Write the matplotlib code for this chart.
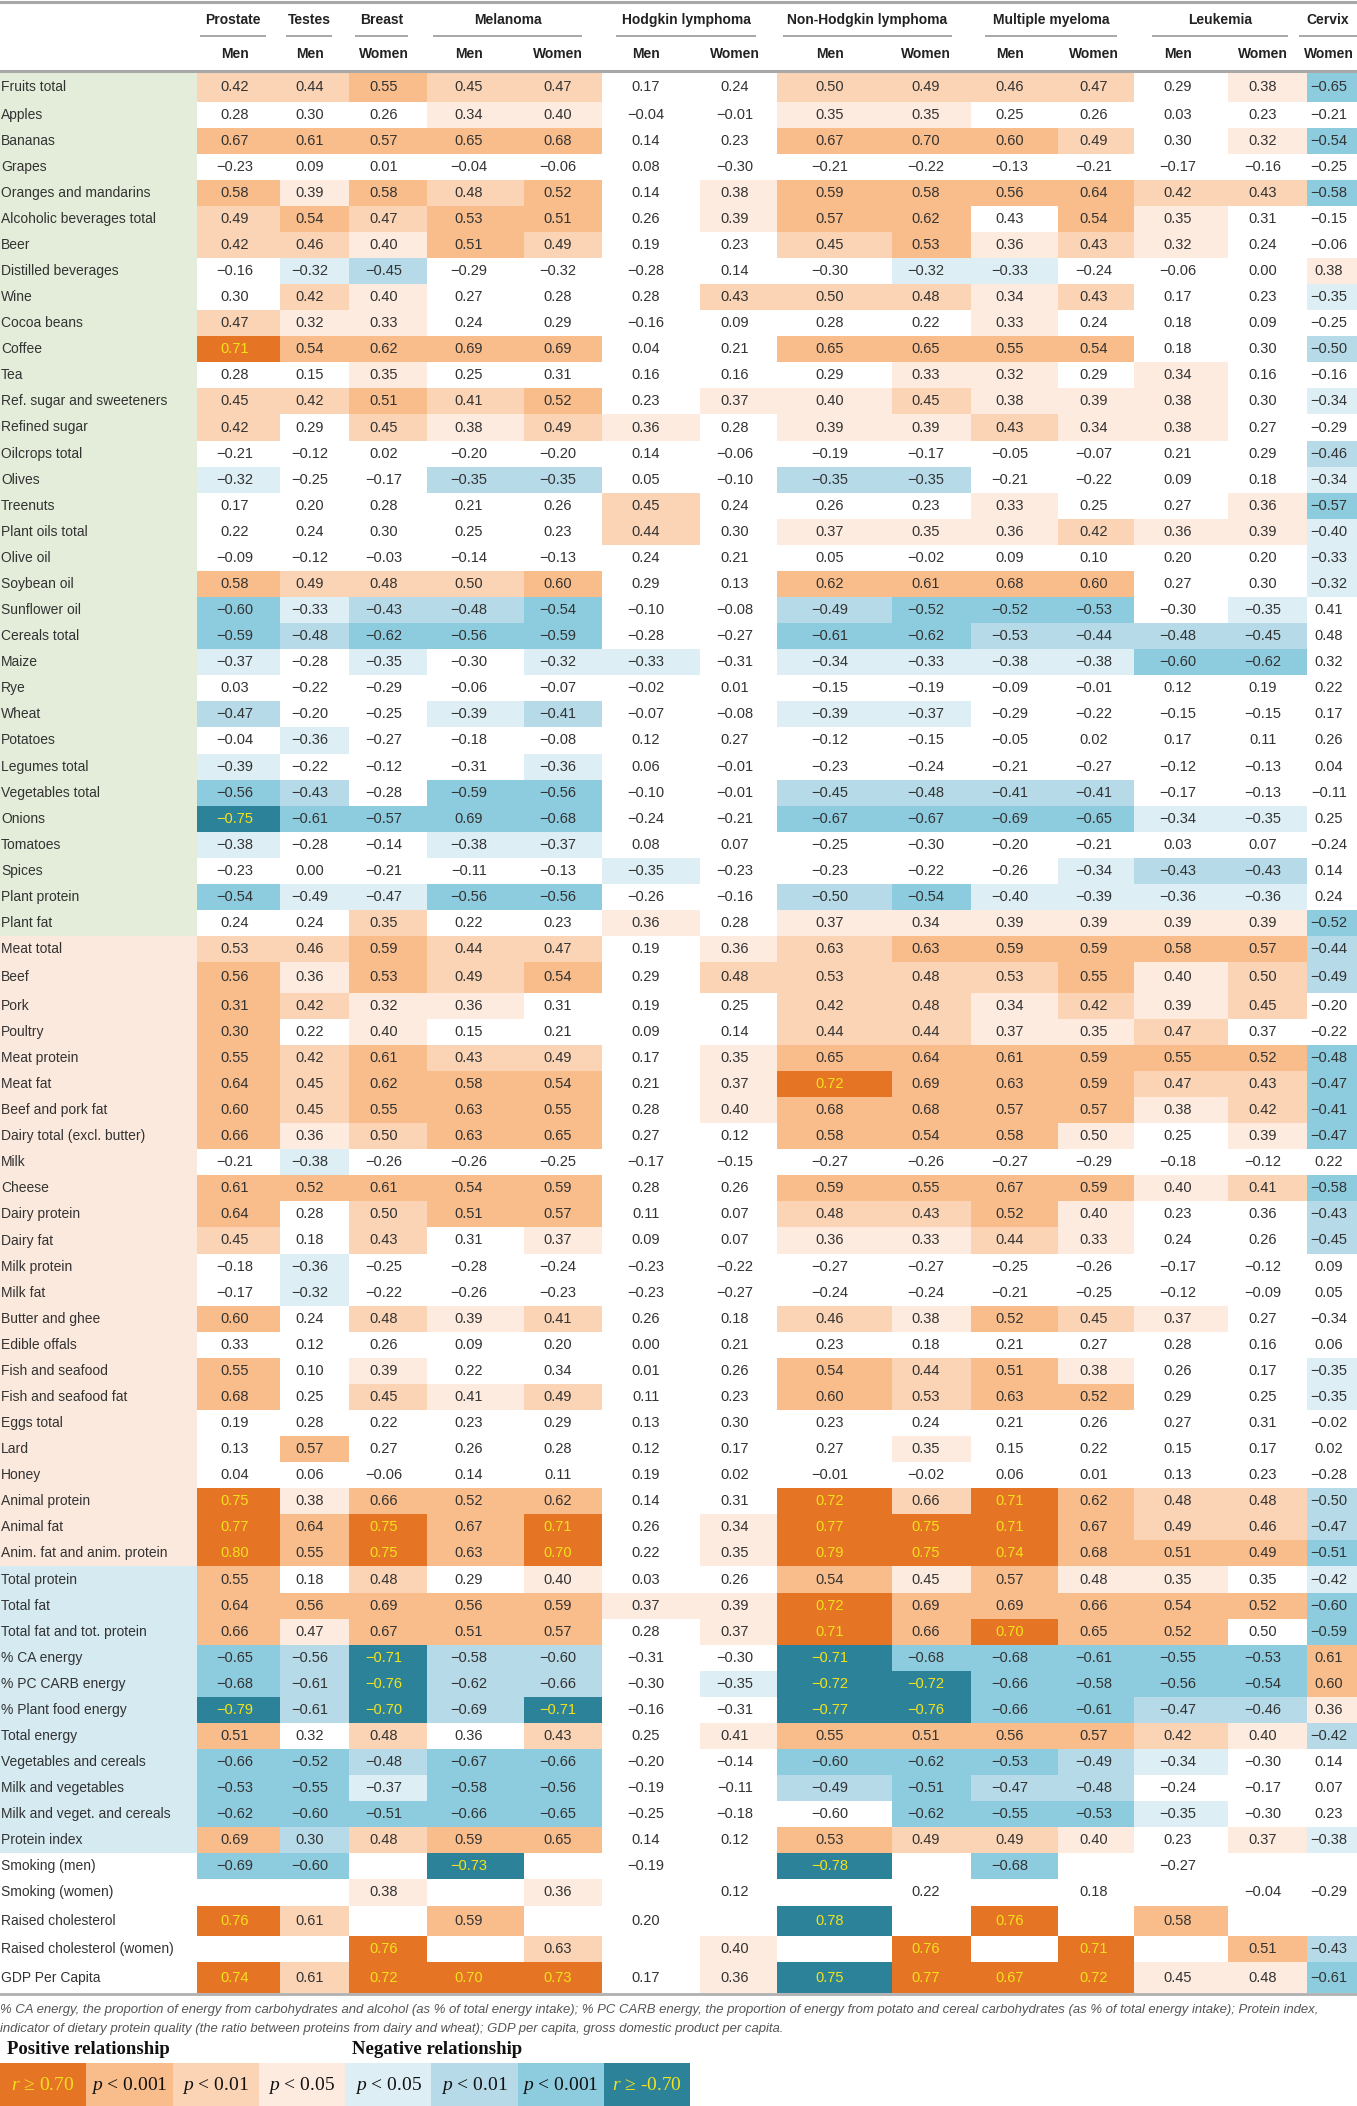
import numpy as np
import matplotlib
matplotlib.use("Agg")
import matplotlib.pyplot as plt
from matplotlib.colors import ListedColormap

plt.rcParams['font.family'] = ['Liberation Sans', 'DejaVu Sans']
plt.rcParams['mathtext.fontset'] = 'custom'
plt.rcParams['mathtext.it'] = 'Liberation Serif:italic'
plt.rcParams['mathtext.rm'] = 'Liberation Serif'

# ---------------- data ----------------
groups = ["Prostate", "Testes", "Breast", "Melanoma", "Hodgkin lymphoma",
          "Non-Hodgkin lymphoma", "Multiple myeloma", "Leukemia", "Cervix"]
group_sizes = [1, 1, 1, 2, 2, 2, 2, 2, 1]
sexes = ["Men", "Men", "Women", "Men", "Women", "Men", "Women", "Men", "Women",
         "Men", "Women", "Men", "Women", "Women"]

row_labels = [
    "Fruits total", "Apples", "Bananas", "Grapes", "Oranges and mandarins",
    "Alcoholic beverages total", "Beer", "Distilled beverages", "Wine", "Cocoa beans",
    "Coffee", "Tea", "Ref. sugar and sweeteners", "Refined sugar", "Oilcrops total",
    "Olives", "Treenuts", "Plant oils total", "Olive oil", "Soybean oil",
    "Sunflower oil", "Cereals total", "Maize", "Rye", "Wheat", "Potatoes",
    "Legumes total", "Vegetables total", "Onions", "Tomatoes", "Spices",
    "Plant protein", "Plant fat", "Meat total", "Beef", "Pork", "Poultry",
    "Meat protein", "Meat fat", "Beef and pork fat", "Dairy total (excl. butter)",
    "Milk", "Cheese", "Dairy protein", "Dairy fat", "Milk protein", "Milk fat",
    "Butter and ghee", "Edible offals", "Fish and seafood", "Fish and seafood fat",
    "Eggs total", "Lard", "Honey", "Animal protein", "Animal fat",
    "Anim. fat and anim. protein", "Total protein", "Total fat",
    "Total fat and tot. protein", "% CA energy", "% PC CARB energy",
    "% Plant food energy", "Total energy", "Vegetables and cereals",
    "Milk and vegetables", "Milk and veget. and cereals", "Protein index",
    "Smoking (men)", "Smoking (women)", "Raised cholesterol",
    "Raised cholesterol (women)", "GDP Per Capita"]

row_sections = ["plant"] * 33 + ["animal"] * 24 + ["total"] * 11 + ["other"] * 5

nan = np.nan
r_values = [
    [0.42, 0.44, 0.55, 0.45, 0.47, 0.17, 0.24, 0.50, 0.49, 0.46, 0.47, 0.29, 0.38, -0.65],
    [0.28, 0.30, 0.26, 0.34, 0.40, -0.04, -0.01, 0.35, 0.35, 0.25, 0.26, 0.03, 0.23, -0.21],
    [0.67, 0.61, 0.57, 0.65, 0.68, 0.14, 0.23, 0.67, 0.70, 0.60, 0.49, 0.30, 0.32, -0.54],
    [-0.23, 0.09, 0.01, -0.04, -0.06, 0.08, -0.30, -0.21, -0.22, -0.13, -0.21, -0.17, -0.16, -0.25],
    [0.58, 0.39, 0.58, 0.48, 0.52, 0.14, 0.38, 0.59, 0.58, 0.56, 0.64, 0.42, 0.43, -0.58],
    [0.49, 0.54, 0.47, 0.53, 0.51, 0.26, 0.39, 0.57, 0.62, 0.43, 0.54, 0.35, 0.31, -0.15],
    [0.42, 0.46, 0.40, 0.51, 0.49, 0.19, 0.23, 0.45, 0.53, 0.36, 0.43, 0.32, 0.24, -0.06],
    [-0.16, -0.32, -0.45, -0.29, -0.32, -0.28, 0.14, -0.30, -0.32, -0.33, -0.24, -0.06, 0.00, 0.38],
    [0.30, 0.42, 0.40, 0.27, 0.28, 0.28, 0.43, 0.50, 0.48, 0.34, 0.43, 0.17, 0.23, -0.35],
    [0.47, 0.32, 0.33, 0.24, 0.29, -0.16, 0.09, 0.28, 0.22, 0.33, 0.24, 0.18, 0.09, -0.25],
    [0.71, 0.54, 0.62, 0.69, 0.69, 0.04, 0.21, 0.65, 0.65, 0.55, 0.54, 0.18, 0.30, -0.50],
    [0.28, 0.15, 0.35, 0.25, 0.31, 0.16, 0.16, 0.29, 0.33, 0.32, 0.29, 0.34, 0.16, -0.16],
    [0.45, 0.42, 0.51, 0.41, 0.52, 0.23, 0.37, 0.40, 0.45, 0.38, 0.39, 0.38, 0.30, -0.34],
    [0.42, 0.29, 0.45, 0.38, 0.49, 0.36, 0.28, 0.39, 0.39, 0.43, 0.34, 0.38, 0.27, -0.29],
    [-0.21, -0.12, 0.02, -0.20, -0.20, 0.14, -0.06, -0.19, -0.17, -0.05, -0.07, 0.21, 0.29, -0.46],
    [-0.32, -0.25, -0.17, -0.35, -0.35, 0.05, -0.10, -0.35, -0.35, -0.21, -0.22, 0.09, 0.18, -0.34],
    [0.17, 0.20, 0.28, 0.21, 0.26, 0.45, 0.24, 0.26, 0.23, 0.33, 0.25, 0.27, 0.36, -0.57],
    [0.22, 0.24, 0.30, 0.25, 0.23, 0.44, 0.30, 0.37, 0.35, 0.36, 0.42, 0.36, 0.39, -0.40],
    [-0.09, -0.12, -0.03, -0.14, -0.13, 0.24, 0.21, 0.05, -0.02, 0.09, 0.10, 0.20, 0.20, -0.33],
    [0.58, 0.49, 0.48, 0.50, 0.60, 0.29, 0.13, 0.62, 0.61, 0.68, 0.60, 0.27, 0.30, -0.32],
    [-0.60, -0.33, -0.43, -0.48, -0.54, -0.10, -0.08, -0.49, -0.52, -0.52, -0.53, -0.30, -0.35, 0.41],
    [-0.59, -0.48, -0.62, -0.56, -0.59, -0.28, -0.27, -0.61, -0.62, -0.53, -0.44, -0.48, -0.45, 0.48],
    [-0.37, -0.28, -0.35, -0.30, -0.32, -0.33, -0.31, -0.34, -0.33, -0.38, -0.38, -0.60, -0.62, 0.32],
    [0.03, -0.22, -0.29, -0.06, -0.07, -0.02, 0.01, -0.15, -0.19, -0.09, -0.01, 0.12, 0.19, 0.22],
    [-0.47, -0.20, -0.25, -0.39, -0.41, -0.07, -0.08, -0.39, -0.37, -0.29, -0.22, -0.15, -0.15, 0.17],
    [-0.04, -0.36, -0.27, -0.18, -0.08, 0.12, 0.27, -0.12, -0.15, -0.05, 0.02, 0.17, 0.11, 0.26],
    [-0.39, -0.22, -0.12, -0.31, -0.36, 0.06, -0.01, -0.23, -0.24, -0.21, -0.27, -0.12, -0.13, 0.04],
    [-0.56, -0.43, -0.28, -0.59, -0.56, -0.10, -0.01, -0.45, -0.48, -0.41, -0.41, -0.17, -0.13, -0.11],
    [-0.75, -0.61, -0.57, 0.69, -0.68, -0.24, -0.21, -0.67, -0.67, -0.69, -0.65, -0.34, -0.35, 0.25],
    [-0.38, -0.28, -0.14, -0.38, -0.37, 0.08, 0.07, -0.25, -0.30, -0.20, -0.21, 0.03, 0.07, -0.24],
    [-0.23, 0.00, -0.21, -0.11, -0.13, -0.35, -0.23, -0.23, -0.22, -0.26, -0.34, -0.43, -0.43, 0.14],
    [-0.54, -0.49, -0.47, -0.56, -0.56, -0.26, -0.16, -0.50, -0.54, -0.40, -0.39, -0.36, -0.36, 0.24],
    [0.24, 0.24, 0.35, 0.22, 0.23, 0.36, 0.28, 0.37, 0.34, 0.39, 0.39, 0.39, 0.39, -0.52],
    [0.53, 0.46, 0.59, 0.44, 0.47, 0.19, 0.36, 0.63, 0.63, 0.59, 0.59, 0.58, 0.57, -0.44],
    [0.56, 0.36, 0.53, 0.49, 0.54, 0.29, 0.48, 0.53, 0.48, 0.53, 0.55, 0.40, 0.50, -0.49],
    [0.31, 0.42, 0.32, 0.36, 0.31, 0.19, 0.25, 0.42, 0.48, 0.34, 0.42, 0.39, 0.45, -0.20],
    [0.30, 0.22, 0.40, 0.15, 0.21, 0.09, 0.14, 0.44, 0.44, 0.37, 0.35, 0.47, 0.37, -0.22],
    [0.55, 0.42, 0.61, 0.43, 0.49, 0.17, 0.35, 0.65, 0.64, 0.61, 0.59, 0.55, 0.52, -0.48],
    [0.64, 0.45, 0.62, 0.58, 0.54, 0.21, 0.37, 0.72, 0.69, 0.63, 0.59, 0.47, 0.43, -0.47],
    [0.60, 0.45, 0.55, 0.63, 0.55, 0.28, 0.40, 0.68, 0.68, 0.57, 0.57, 0.38, 0.42, -0.41],
    [0.66, 0.36, 0.50, 0.63, 0.65, 0.27, 0.12, 0.58, 0.54, 0.58, 0.50, 0.25, 0.39, -0.47],
    [-0.21, -0.38, -0.26, -0.26, -0.25, -0.17, -0.15, -0.27, -0.26, -0.27, -0.29, -0.18, -0.12, 0.22],
    [0.61, 0.52, 0.61, 0.54, 0.59, 0.28, 0.26, 0.59, 0.55, 0.67, 0.59, 0.40, 0.41, -0.58],
    [0.64, 0.28, 0.50, 0.51, 0.57, 0.11, 0.07, 0.48, 0.43, 0.52, 0.40, 0.23, 0.36, -0.43],
    [0.45, 0.18, 0.43, 0.31, 0.37, 0.09, 0.07, 0.36, 0.33, 0.44, 0.33, 0.24, 0.26, -0.45],
    [-0.18, -0.36, -0.25, -0.28, -0.24, -0.23, -0.22, -0.27, -0.27, -0.25, -0.26, -0.17, -0.12, 0.09],
    [-0.17, -0.32, -0.22, -0.26, -0.23, -0.23, -0.27, -0.24, -0.24, -0.21, -0.25, -0.12, -0.09, 0.05],
    [0.60, 0.24, 0.48, 0.39, 0.41, 0.26, 0.18, 0.46, 0.38, 0.52, 0.45, 0.37, 0.27, -0.34],
    [0.33, 0.12, 0.26, 0.09, 0.20, 0.00, 0.21, 0.23, 0.18, 0.21, 0.27, 0.28, 0.16, 0.06],
    [0.55, 0.10, 0.39, 0.22, 0.34, 0.01, 0.26, 0.54, 0.44, 0.51, 0.38, 0.26, 0.17, -0.35],
    [0.68, 0.25, 0.45, 0.41, 0.49, 0.11, 0.23, 0.60, 0.53, 0.63, 0.52, 0.29, 0.25, -0.35],
    [0.19, 0.28, 0.22, 0.23, 0.29, 0.13, 0.30, 0.23, 0.24, 0.21, 0.26, 0.27, 0.31, -0.02],
    [0.13, 0.57, 0.27, 0.26, 0.28, 0.12, 0.17, 0.27, 0.35, 0.15, 0.22, 0.15, 0.17, 0.02],
    [0.04, 0.06, -0.06, 0.14, 0.11, 0.19, 0.02, -0.01, -0.02, 0.06, 0.01, 0.13, 0.23, -0.28],
    [0.75, 0.38, 0.66, 0.52, 0.62, 0.14, 0.31, 0.72, 0.66, 0.71, 0.62, 0.48, 0.48, -0.50],
    [0.77, 0.64, 0.75, 0.67, 0.71, 0.26, 0.34, 0.77, 0.75, 0.71, 0.67, 0.49, 0.46, -0.47],
    [0.80, 0.55, 0.75, 0.63, 0.70, 0.22, 0.35, 0.79, 0.75, 0.74, 0.68, 0.51, 0.49, -0.51],
    [0.55, 0.18, 0.48, 0.29, 0.40, 0.03, 0.26, 0.54, 0.45, 0.57, 0.48, 0.35, 0.35, -0.42],
    [0.64, 0.56, 0.69, 0.56, 0.59, 0.37, 0.39, 0.72, 0.69, 0.69, 0.66, 0.54, 0.52, -0.60],
    [0.66, 0.47, 0.67, 0.51, 0.57, 0.28, 0.37, 0.71, 0.66, 0.70, 0.65, 0.52, 0.50, -0.59],
    [-0.65, -0.56, -0.71, -0.58, -0.60, -0.31, -0.30, -0.71, -0.68, -0.68, -0.61, -0.55, -0.53, 0.61],
    [-0.68, -0.61, -0.76, -0.62, -0.66, -0.30, -0.35, -0.72, -0.72, -0.66, -0.58, -0.56, -0.54, 0.60],
    [-0.79, -0.61, -0.70, -0.69, -0.71, -0.16, -0.31, -0.77, -0.76, -0.66, -0.61, -0.47, -0.46, 0.36],
    [0.51, 0.32, 0.48, 0.36, 0.43, 0.25, 0.41, 0.55, 0.51, 0.56, 0.57, 0.42, 0.40, -0.42],
    [-0.66, -0.52, -0.48, -0.67, -0.66, -0.20, -0.14, -0.60, -0.62, -0.53, -0.49, -0.34, -0.30, 0.14],
    [-0.53, -0.55, -0.37, -0.58, -0.56, -0.19, -0.11, -0.49, -0.51, -0.47, -0.48, -0.24, -0.17, 0.07],
    [-0.62, -0.60, -0.51, -0.66, -0.65, -0.25, -0.18, -0.60, -0.62, -0.55, -0.53, -0.35, -0.30, 0.23],
    [0.69, 0.30, 0.48, 0.59, 0.65, 0.14, 0.12, 0.53, 0.49, 0.49, 0.40, 0.23, 0.37, -0.38],
    [-0.69, -0.60, nan, -0.73, nan, -0.19, nan, -0.78, nan, -0.68, nan, -0.27, nan, nan],
    [nan, nan, 0.38, nan, 0.36, nan, 0.12, nan, 0.22, nan, 0.18, nan, -0.04, -0.29],
    [0.76, 0.61, nan, 0.59, nan, 0.20, nan, 0.78, nan, 0.76, nan, 0.58, nan, nan],
    [nan, nan, 0.76, nan, 0.63, nan, 0.40, nan, 0.76, nan, 0.71, nan, 0.51, -0.43],
    [0.74, 0.61, 0.72, 0.70, 0.73, 0.17, 0.36, 0.75, 0.77, 0.67, 0.72, 0.45, 0.48, -0.61],
]

# significance class read from cell shading:
# '0' none; positive '1' p<0.05, '2' p<0.01, '3' p<0.001, '4' r>=0.70;
# negative 'a' p<0.05, 'b' p<0.01, 'c' p<0.001, 'd' r<=-0.70
significance = [
    "2232200222201c", "00011001100000", "3333300333201c", "00000000000000",
    "3132301333322c", "23233013303100", "22132002312100", "0ab00000aa0001",
    "0210002221200a", "21100000010000", "4333300333300b", "00100000110100",
    "2232301121110a", "20212101121100", "0000000000000b", "a00bb00bb0000a",
    "0000020001001c", "0000020111211a", "0000000000000a", "3222300333300a",
    "cabbc00bccc0a0", "cbccc00ccbbbb0", "a0a0aa0aaaacc0", "00000000000000",
    "b00ab00aa00000", "0a000000000000", "a000a000000000", "cb0cc00bbbb000",
    "dcccc00ccccaa0", "a00aa000000000", "00000a0000abb0", "caacc00bcaaaa0",
    "0020010111111c", "2232201233333b", "3132302222312b", "32110002212120",
    "30100002211200", "3232201333333c", "3233301433322c", "3233301333312c",
    "3123300333101c", "0a000000000000", "3333300333312c", "3023300223100b",
    "2020100112100b", "0a000000000000", "0a000000000000", "30212002132100",
    "00000000000000", "3010000323100a", "3021200323300a", "00000000000000",
    "03000000100000", "00000000000000", "4133300424322b", "4343401444322b",
    "4343401444333c", "3020100313110a", "3333311433333c", "3133301434330c",
    "cbdbb00dccccc3", "cbdbb0addcccc3", "dbdbd00ddccbb1", "3020201333321b",
    "ccbcc00cccba00", "ccacc00bcbb000", "ccccc000ccca00", "3b23300322101a",
    "cc0d000d0c0000", "00101000000000", "4203000d040300", "0040201040403b",
    "4244401d44411c",
]

legend_codes = "4321abcd"
legend_labels = [r"$\mathit{r}$ ≥ 0.70", r"$\mathit{p}$ < 0.001", r"$\mathit{p}$ < 0.01",
                 r"$\mathit{p}$ < 0.05", r"$\mathit{p}$ < 0.05", r"$\mathit{p}$ < 0.01",
                 r"$\mathit{p}$ < 0.001", r"$\mathit{r}$ ≥ -0.70"]

footnote = ["% CA energy, the proportion of energy from carbohydrates and alcohol (as % of total energy intake); "
            "% PC CARB energy, the proportion of energy from potato and cereal carbohydrates (as % of total energy intake); Protein index,",
            "indicator of dietary protein quality (the ratio between proteins from dairy and wheat); "
            "GDP per capita, gross domestic product per capita."]

# ---------------- styling / layout ----------------
code_order = "01234abcd"
cell_colors = ['#FFFFFF', '#FDEBDF', '#FBD4B5', '#F9BD8B', '#E57424',
               '#DDEEF4', '#B6DAE8', '#8DCCDF', '#2C8399']
section_order = ["plant", "animal", "total", "other"]
section_colors = ['#E3EDDA', '#FCE9DD', '#D5EAF1', '#FFFFFF']
yellow = '#F3E21C'
txt = '#333333'

col_edges = [197, 280, 349, 427, 524, 602, 700, 777, 892, 971, 1058, 1134, 1228, 1307, 1357]
text_x = [235, 310, 384, 469, 558, 646, 735, 830, 926, 1010, 1094, 1178, 1263, 1329]
underlines = [(200, 266), (286, 332), (355, 408), (433, 582), (616, 756),
              (783, 952), (985, 1117), (1152, 1288), (1299, 1357)]
row_height = {"Fruits total": 29.5, "Beef": 30.6, "Raised cholesterol": 30.6,
              "GDP Per Capita": 30.6}
base_h, top_y = 26.08, 72.0

heights = [row_height.get(lab, base_h) for lab in row_labels]
row_edges = top_y + np.concatenate([[0], np.cumsum(heights)])
row_centers = (row_edges[:-1] + row_edges[1:]) / 2

fig = plt.figure(figsize=(13.57, 21.06), dpi=100)
ax = fig.add_axes([0, 0, 1, 1])
ax.set_xlim(0, 1357)
ax.set_ylim(2106, 0)
ax.axis('off')

# cells
cidx = np.array([[code_order.index(ch) for ch in s] for s in significance], dtype=float)
ax.pcolormesh(col_edges, row_edges, cidx, cmap=ListedColormap(cell_colors),
              vmin=-0.5, vmax=len(cell_colors) - 0.5, shading='flat',
              antialiased=False, edgecolors='none', linewidth=0)
# label background
sidx = np.array([[section_order.index(s)] for s in row_sections], dtype=float)
ax.pcolormesh([0, col_edges[0]], row_edges, sidx, cmap=ListedColormap(section_colors),
              vmin=-0.5, vmax=3.5, shading='flat', antialiased=False,
              edgecolors='none', linewidth=0)

# text
for i, lab in enumerate(row_labels):
    ax.text(1, row_centers[i], lab, ha='left', va='center', fontsize=10, color=txt)
    for j, v in enumerate(r_values[i]):
        if np.isnan(v):
            continue
        s = f"{abs(v):.2f}"
        if v < 0:
            s = "\u2212" + s
        col = yellow if significance[i][j] in "4d" else txt
        ax.text(text_x[j], row_centers[i], s, ha='center', va='center',
                fontsize=10.5, color=col)

# header
for g, (x0, x1) in zip(groups, underlines):
    ax.text((x0 + x1) / 2, 20, g, ha='center', va='center', fontsize=10,
            fontweight='bold', color='#222222')
    ax.plot([x0, x1], [36, 36], color='#a0a0a0', lw=1.3, solid_capstyle='butt')
for j, s in enumerate(sexes):
    ax.text(text_x[j], 54, s, ha='center', va='center', fontsize=10,
            fontweight='bold', color='#222222')
ax.plot([0, 1357], [1.5, 1.5], color='#a8a8a8', lw=2.2)
ax.plot([0, 1357], [71, 71], color='#a8a8a8', lw=2.2)
ax.plot([0, 1357], [row_edges[-1] + 1, row_edges[-1] + 1], color='#b0b0b0', lw=2)

# footnote
ax.text(0, 2010, footnote[0], ha='left', va='center', fontsize=9.45,
        style='italic', color='#555555')
ax.text(0, 2029, footnote[1], ha='left', va='center', fontsize=9.45,
        style='italic', color='#555555')

# legend
serif = ['Liberation Serif', 'DejaVu Serif']
ax.text(7, 2050, "Positive relationship", ha='left', va='center', fontsize=13.5,
        fontweight='bold', family=serif, color='#111111')
ax.text(352, 2050, "Negative relationship", ha='left', va='center', fontsize=13.5,
        fontweight='bold', family=serif, color='#111111')
box_w = 86.25
leg_edges = np.arange(len(legend_codes) + 1) * box_w
lidx = np.array([[code_order.index(c) for c in legend_codes]], dtype=float)
ax.pcolormesh(leg_edges, [2063, 2106], lidx, cmap=ListedColormap(cell_colors),
              vmin=-0.5, vmax=len(cell_colors) - 0.5, shading='flat',
              antialiased=False, edgecolors='none', linewidth=0)
for k, lab in enumerate(legend_labels):
    col = yellow if legend_codes[k] in "4d" else '#111111'
    ax.text((leg_edges[k] + leg_edges[k + 1]) / 2, 2085, lab, ha='center', va='center',
            fontsize=14, color=col, family=serif)

fig.savefig("out.png", dpi=100)
